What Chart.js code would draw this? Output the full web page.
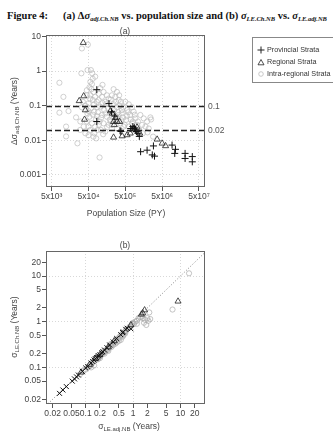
<!DOCTYPE html>
<html>
<head>
<meta charset="utf-8">
<script src="https://cdn.jsdelivr.net/npm/chart.js@4.4.1/dist/chart.umd.min.js"></script>
<style>
  body { margin: 0; width: 333px; height: 433px; overflow: hidden; background: #fff; position: relative; font-family: "Liberation Sans", Arial, sans-serif; }
  .abs { position: absolute; white-space: nowrap; }
  canvas { position: absolute; }
  .hdr { font-family: "Liberation Serif", "Times New Roman", serif; font-weight: bold; font-size: 10.5px; top: 10px; color: #111; }
  .hsub { font-size: 6.5px; font-style: italic; position: relative; top: 2px; }
  .t { font-size: 8.5px; color: #444; }
  .sub { font-size: 6px; position: relative; top: 2px; }
  .rot { transform: translate(-50%, -50%) rotate(-90deg); }
  .ctr { transform: translate(-50%, -50%); }
  #leg { left: 252px; top: 37px; width: 95px; height: 44px; border: 1px solid #888; }
  .li { position: absolute; left: 4px; font-size: 7.2px; color: #333; }
  .li svg { position: absolute; left: 0; top: 1px; }
  .li span { position: absolute; left: 10px; top: 0; }
</style>
</head>
<body>
<div class="abs hdr" style="left:7px">Figure 4:</div>
<div class="abs hdr" style="left:63px">(a) Δ<i>σ</i><span class="hsub">adj.Ch.NB</span> vs. population size and (b) <i>σ</i><span class="hsub">LE.Ch.NB</span> vs. <i>σ</i><span class="hsub">LE.adj.NB</span></div>

<canvas id="ca" width="240" height="225" style="left:0;top:0"></canvas>
<canvas id="cb" width="240" height="203" style="left:0;top:230px"></canvas>

<div class="abs t ctr" style="left:125px;top:31px">(a)</div>
<div class="abs t ctr" style="left:126px;top:213px">Population Size (PY)</div>
<div class="abs t rot" style="left:14px;top:111px">Δσ<span class="sub">adj.Ch.NB</span> (Years)</div>

<div class="abs t ctr" style="left:125px;top:245px">(b)</div>
<div class="abs t ctr" style="left:129px;top:426px">σ<span class="sub">LE.adj.NB</span> (Years)</div>
<div class="abs t rot" style="left:14px;top:327px">σ<span class="sub">LE.Ch.NB</span> (Years)</div>

<div id="leg" class="abs">
  <div class="li" style="top:7px"><svg width="8" height="8"><path d="M4 0.5V7.5M0.5 4H7.5" stroke="#222" stroke-width="1"/></svg><span>Provincial Strata</span></div>
  <div class="li" style="top:19px"><svg width="8" height="8"><path d="M4 1.5L7 6.8H1Z" fill="none" stroke="#222" stroke-width="0.8"/></svg><span>Regional Strata</span></div>
  <div class="li" style="top:31px"><svg width="8" height="8"><circle cx="4" cy="4" r="2.3" fill="none" stroke="#bbb" stroke-width="0.8"/></svg><span>Intra-regional Strata</span></div>
</div>

<script>
// (a) population size (PY) vs delta sigma (years)
const provA = [
  [8.4e4, 0.29], [8.4e4, 0.035], [1.8e5, 0.115], [2.1e5, 0.067], [2.6e5, 0.05], [3.6e5, 0.019],
  [3.8e5, 0.018], [8.0e5, 0.025], [8.8e5, 0.023], [9.4e5, 0.02], [1.0e6, 0.018], [1.1e6, 0.016],
  [1.3e6, 0.0047], [1.95e6, 0.0052], [2.7e6, 0.0038], [2.9e6, 0.0069], [3.1e6, 0.0035],
  [9.3e6, 0.0073], [1.15e7, 0.0055], [1.1e7, 0.0042], [2.1e7, 0.0042], [2.1e7, 0.003],
  [3.3e7, 0.0034], [3.3e7, 0.0024], [7.0e5, 0.022], [1.2e6, 0.013]
];
const regA = [
  [3.6e4, 6.6], [3.7e4, 0.19], [2.8e4, 0.138], [4.1e4, 0.075], [3.9e4, 0.04],
  [1.95e5, 0.07], [2.2e5, 0.06], [2.4e5, 0.0345], [3.5e5, 0.0345], [2.5e5, 0.028],
  [2.4e5, 0.0122], [4.1e5, 0.0133], [5.6e5, 0.0143], [6.8e5, 0.016], [8.4e5, 0.022],
  [1.04e6, 0.024], [1.23e6, 0.016], [3.66e6, 0.0107], [5.0e6, 0.0082], [6.2e6, 0.0069],
  [2.7e5, 0.045], [3.0e5, 0.035]
];
const intraA = [
  [8.1e3, 0.46], [1.04e4, 0.18], [8.1e3, 0.063], [1.43e4, 0.07], [1.23e4, 0.025], [1.23e4, 0.013],
  [2.3e4, 0.046], [2.5e4, 0.0082], [3.2e4, 0.86], [3.3e4, 4.5], [2.97e4, 0.02], [3.3e4, 0.09],
  [3.7e4, 0.025], [4.8e4, 5.8], [3.0e4, 0.035], [3.5e4, 0.13],
  [4.7e4, 1.07], [5.8e4, 1.07], [6.3e4, 0.86], [7.6e4, 0.69], [5.6e4, 0.49], [6.2e4, 0.42],
  [5.3e4, 0.34], [6.8e4, 0.25], [5.6e4, 0.2], [7.6e4, 0.18], [6.6e4, 0.146], [5.0e4, 0.117],
  [8.4e4, 0.13], [5.8e4, 0.084], [7.1e4, 0.067], [5.3e4, 0.048], [8.4e4, 0.05], [6.2e4, 0.031],
  [7.6e4, 0.025], [5.6e4, 0.02], [6.8e4, 0.0128], [5.0e4, 0.014], [8.8e4, 0.02], [8.1e4, 0.0114],
  [4.5e4, 0.28], [4.5e4, 0.2], [4.1e4, 0.1], [4.7e4, 0.06], [4.5e4, 0.035], [4.1e4, 0.016],
  [6.0e4, 0.3], [7.1e4, 0.11], [6.6e4, 0.055], [8.0e4, 0.04], [5.0e4, 0.025], [7.2e4, 0.016],
  [6.5e4, 0.6], [5.5e4, 0.16], [8.6e4, 0.09], [5.0e4, 0.07],
  [1.04e5, 0.32], [1.28e5, 0.25], [1.58e5, 0.2], [1.16e5, 0.18], [9.4e4, 0.146], [1.43e5, 0.13],
  [1.76e5, 0.16], [1.04e5, 0.094], [1.34e5, 0.075], [1.16e5, 0.054], [1.58e5, 0.048], [1.0e5, 0.035],
  [1.28e5, 0.031], [1.76e5, 0.028], [1.08e5, 0.02], [1.43e5, 0.018], [1.0e5, 0.0032], [1.2e5, 0.4],
  [9.5e4, 0.22], [1.5e5, 0.11], [1.2e5, 0.12], [1.7e5, 0.085], [9.0e4, 0.065], [1.45e5, 0.06],
  [1.9e5, 0.04], [1.1e5, 0.045], [1.6e5, 0.024], [1.25e5, 0.015], [9.5e4, 0.028],
  [2.4e5, 0.3], [2.96e5, 0.25], [2.16e5, 0.2], [2.67e5, 0.18], [3.3e5, 0.146], [3.8e5, 0.13],
  [2.4e5, 0.11], [2.96e5, 0.09], [4.06e5, 0.075], [2.3e5, 0.063], [3.3e5, 0.054], [4.3e5, 0.046],
  [2.67e5, 0.039], [3.66e5, 0.031], [2.16e5, 0.028], [4.5e5, 0.025], [2.96e5, 0.022], [2.0e5, 0.15],
  [3.5e5, 0.1], [2.5e5, 0.075], [4.0e5, 0.06], [3.0e5, 0.045], [2.2e5, 0.048], [3.9e5, 0.038],
  [4.4e5, 0.09], [2.8e5, 0.13], [2.0e5, 0.035], [3.4e5, 0.2], [3.2e5, 0.065],
  [5.0e5, 0.13], [6.2e5, 0.11], [7.6e5, 0.09], [5.6e5, 0.075], [8.4e5, 0.067], [6.8e5, 0.054],
  [9.4e5, 0.043], [5.3e5, 0.039], [7.6e5, 0.031], [1.04e6, 0.028], [6.2e5, 0.025], [8.4e5, 0.02],
  [5.5e5, 0.05], [7.0e5, 0.04], [9.0e5, 0.055], [6.0e5, 0.065], [4.8e5, 0.028], [8.0e5, 0.035],
  [1.28e6, 0.054], [1.58e6, 0.043], [1.95e6, 0.035], [2.4e6, 0.046], [2.5e6, 0.04], [1.43e6, 0.028],
  [1.76e6, 0.025], [2.16e6, 0.022], [2.84e6, 0.0128], [1.1e6, 0.035], [1.2e6, 0.02], [2.0e6, 0.017],
  [1.5e6, 0.016]
];
const xTicksA = [5e3, 5e4, 5e5, 5e6, 5e7];
const xLabelsA = ['5x10³', '5x10⁴', '5x10⁵', '5x10⁶', '5x10⁷'];
const yTicksA = [0.001, 0.01, 0.1, 1, 10];
const yLabelsA = ['0.001', '0.01', '0.1', '1', '10'];
const refLinesA = [0.1, 0.02];

// (b) sigma LE adj.NB vs sigma LE Ch.NB (years)
const provB = [
  [0.028, 0.027], [0.033, 0.032], [0.039, 0.038], [0.052, 0.05], [0.058, 0.056], [0.064, 0.062],
  [0.07, 0.068], [0.085, 0.082], [0.1, 0.097], [0.11, 0.105], [0.13, 0.125], [0.14, 0.135],
  [0.15, 0.145], [0.16, 0.155], [0.17, 0.165], [0.18, 0.175], [0.2, 0.19], [0.22, 0.21],
  [0.25, 0.24], [0.28, 0.27], [0.32, 0.31], [0.38, 0.36], [0.45, 0.43], [0.55, 0.52],
  [0.62, 0.6], [0.7, 0.68], [0.9, 0.7], [0.75, 0.72], [0.6, 0.58], [0.19, 0.18], [0.23, 0.22]
];
const regB = [
  [0.08, 0.078], [0.12, 0.115], [0.16, 0.155], [0.2, 0.19], [0.3, 0.28], [0.4, 0.38],
  [0.9, 0.85], [1.5, 1.45], [1.75, 1.8], [1.6, 1.55], [8.9, 2.8]
];
const intraB = [
  [0.075, 0.07], [0.09, 0.085], [0.1, 0.09], [0.12, 0.105], [0.13, 0.12], [0.14, 0.13],
  [0.15, 0.135], [0.16, 0.15], [0.17, 0.155], [0.18, 0.165], [0.19, 0.17], [0.2, 0.18],
  [0.21, 0.19], [0.22, 0.2], [0.23, 0.21], [0.25, 0.22], [0.26, 0.23], [0.28, 0.25],
  [0.3, 0.27], [0.32, 0.28], [0.34, 0.3], [0.35, 0.33], [0.37, 0.33], [0.4, 0.36],
  [0.42, 0.38], [0.45, 0.4], [0.48, 0.43], [0.5, 0.42], [0.52, 0.47], [0.55, 0.5],
  [0.58, 0.52], [0.6, 0.55], [0.65, 0.58], [0.7, 0.62], [0.75, 0.7], [0.8, 0.72],
  [0.85, 0.78], [0.9, 0.8], [0.95, 0.9], [1.0, 0.95], [1.05, 0.9], [1.1, 1.0],
  [1.2, 1.05], [1.3, 1.2], [1.4, 1.25], [1.5, 1.3], [1.6, 1.2], [1.8, 1.1],
  [2.0, 1.2], [2.1, 1.05], [1.9, 0.85], [1.7, 0.95], [2.3, 1.15], [2.2, 1.6],
  [1.2, 0.9], [0.55, 0.4], [0.45, 0.35], [0.35, 0.28], [0.25, 0.2], [0.18, 0.15],
  [0.15, 0.11], [0.13, 0.1], [0.12, 0.11], [0.29, 0.24], [0.38, 0.31], [0.62, 0.5],
  [0.68, 0.55], [0.33, 0.32], [0.24, 0.23], [0.16, 0.16], [0.11, 0.1], [0.7, 0.65],
  [0.42, 0.33], [0.5, 0.38], [0.6, 0.47], [0.3, 0.23], [0.2, 0.16],
  [6.8, 1.85], [15.2, 11.5]
];
const ticksB = [0.02, 0.05, 0.1, 0.2, 0.5, 1, 2, 5, 10, 20];
const labelsB = ['0.02', '0.05', '0.1', '0.2', '0.5', '1', '2', '5', '10', '20'];
const gridB = [0.1, 1, 10];
const diagB = [0.005, 100];

const toXY = arr => arr.map(([x, y]) => ({ x, y }));

function logAxis(min, max, ticks, labels, size, gridAt) {
  return {
    type: 'logarithmic',
    min: min,
    max: max,
    afterBuildTicks: s => { s.ticks = ticks.map(v => ({ value: v })); },
    afterFit: s => { if (s.isHorizontal()) s.height = size; else s.width = size; },
    ticks: {
      callback: (v, i) => labels[i],
      font: { family: 'Liberation Sans', size: 8.5 },
      color: '#444',
      padding: 1,
      autoSkip: false,
      maxRotation: 0,
      minRotation: 0
    },
    grid: {
      color: c => (gridAt.includes(c.tick && c.tick.value) ? '#d8d8d8' : 'rgba(0,0,0,0)'),
      lineWidth: 1,
      tickColor: '#555',
      tickLength: 4,
      tickBorderDash: []
    },
    border: { display: false, dash: [1, 2] }
  };
}

// box round the plot, dashed reference lines
const frame = {
  id: 'frame',
  afterDatasetsDraw(chart, args, opts) {
    const { ctx, chartArea: a, scales } = chart;
    ctx.save();
    (opts.lines || []).forEach(v => {
      const y = Math.round(scales.y.getPixelForValue(v)) + 0.5;
      ctx.strokeStyle = '#222';
      ctx.lineWidth = 1.3;
      ctx.setLineDash([6, 3]);
      ctx.beginPath();
      ctx.moveTo(a.left, y);
      ctx.lineTo(a.right, y);
      ctx.stroke();
      ctx.setLineDash([]);
      ctx.fillStyle = '#555';
      ctx.font = '8.5px "Liberation Sans"';
      ctx.textBaseline = 'middle';
      ctx.fillText(String(v), a.right + 3, y);
    });
    ctx.strokeStyle = '#666';
    ctx.lineWidth = 1;
    ctx.strokeRect(a.left + 0.5, a.top + 0.5, a.width - 1, a.height - 1);
    ctx.restore();
  }
};

const base = {
  responsive: false,
  animation: false,
  devicePixelRatio: 1,
  plugins: { legend: { display: false }, tooltip: { enabled: false } }
};

const prov = (data, style) => ({ data: toXY(data), pointStyle: style, radius: 3.5, borderColor: '#111', borderWidth: 1, backgroundColor: 'rgba(0,0,0,0)' });
const reg = data => ({ data: toXY(data), pointStyle: 'triangle', radius: 3.5, borderColor: '#222', borderWidth: 0.8, backgroundColor: 'rgba(0,0,0,0)' });
const intra = (data, col) => ({ data: toXY(data), pointStyle: 'circle', radius: 2.6, borderColor: col, borderWidth: 0.7, backgroundColor: 'rgba(0,0,0,0)' });

new Chart(document.getElementById('ca'), {
  type: 'scatter',
  data: { datasets: [prov(provA, 'cross'), reg(regA), intra(intraA, '#bbb')] },
  options: {
    ...base,
    layout: { padding: { left: 0, right: 35, top: 35, bottom: 0 } },
    scales: {
      x: logAxis(3500, 7.3e7, xTicksA, xLabelsA, 38, xTicksA),
      y: logAxis(0.00045, 11, yTicksA, yLabelsA, 46, yTicksA)
    },
    plugins: { ...base.plugins, frame: { lines: refLinesA } }
  },
  plugins: [frame]
});

new Chart(document.getElementById('cb'), {
  type: 'scatter',
  data: {
    datasets: [
      prov(provB, 'crossRot'), reg(regB), intra(intraB, '#aaa'),
      { type: 'line', data: toXY([[diagB[0], diagB[0]], [diagB[1], diagB[1]]]), showLine: true, borderColor: '#666', borderWidth: 0.8, borderDash: [1, 2], pointRadius: 0, fill: false }
    ]
  },
  options: {
    ...base,
    layout: { padding: { left: 0, right: 35, top: 21, bottom: 0 } },
    scales: {
      x: logAxis(0.0145, 33, ticksB, labelsB, 29, gridB),
      y: logAxis(0.0158, 35.4, ticksB, labelsB, 46, gridB)
    },
    plugins: { ...base.plugins, frame: {} }
  },
  plugins: [frame]
});
</script>
</body>
</html>
